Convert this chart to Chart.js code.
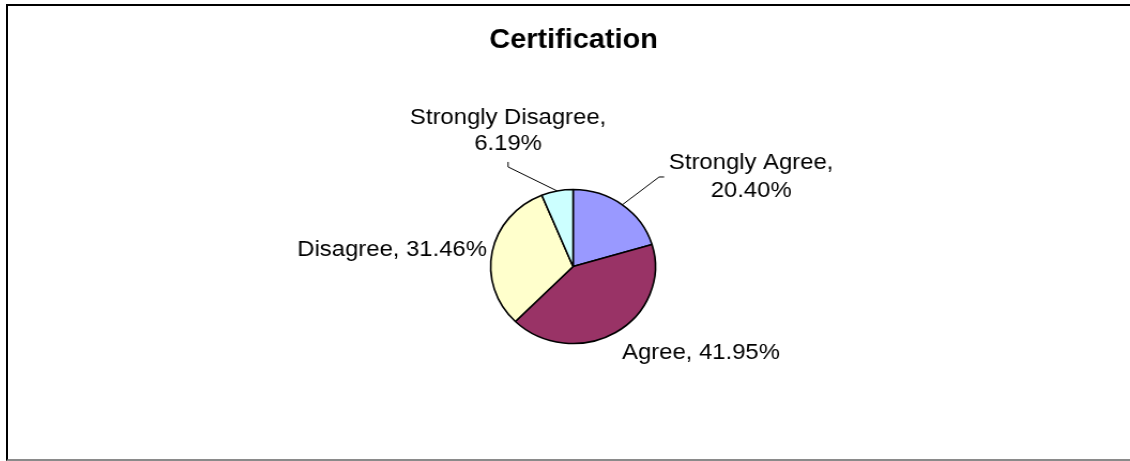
<!DOCTYPE html>
<html>
<head>
<meta charset="utf-8">
<script src="https://cdn.jsdelivr.net/npm/chart.js@4/dist/chart.umd.min.js"></script>
<style>
  html, body { margin: 0; padding: 0; background: #fff; overflow: hidden; }
  body { width: 1130px; height: 461px; position: relative; }
  #frame {
    position: absolute; left: 6px; top: 4px; width: 1130px; height: 453px;
    border-left: 2px solid #000; border-top: 2px solid #000; border-bottom: 2px solid #8a8a8a;
    box-sizing: content-box;
  }
  #stage {
    position: absolute; left: 0; top: 0; width: 1056px; height: 461px;
    transform-origin: 0 0; transform: scaleX(1.0701);
  }
</style>
</head>
<body>
<div id="frame"></div>
<div id="stage"><canvas id="chart" width="1056" height="461"></canvas></div>
<script>
// Survey answers for the certification question
const categories = ['Strongly Agree', 'Agree', 'Disagree', 'Strongly Disagree'];
const percentages = [20.40, 41.95, 31.46, 6.19];
const sliceColors = ['#9999FF', '#993366', '#FFFFCC', '#CCFFFF'];
const chartTitle = 'Certification';

// Where each data label sits relative to the point on the rim at the slice's middle angle.
// lines: baseline offsets for each text line; leader: polyline from the rim outward.
const labelLayout = [
  { align: 'center', dx: 120.4, lines: [-35.8, -7.8], split: true,
    leader: [[34.4, -27.8], [39.1, -27.8]] },
  { align: 'left', dx: 6.1, lines: [26.5], split: false, leader: null },
  { align: 'right', dx: -4.9, lines: [4.3], split: false, leader: null },
  { align: 'center', dx: -45.8, lines: [-67, -41], split: true,
    leader: [[-45.8, -24], [-45.8, -29]] }
];

const FONT = '"Liberation Sans", Arial, "DejaVu Sans", sans-serif';

const pieLabels = {
  id: 'pieLabels',
  afterDatasetsDraw(chart) {
    const ctx = chart.ctx;
    const meta = chart.getDatasetMeta(0);
    ctx.save();
    ctx.fillStyle = '#000';
    ctx.strokeStyle = '#000';
    ctx.lineWidth = 1;
    ctx.textBaseline = 'alphabetic';
    ctx.font = '22.3px ' + FONT;
    meta.data.forEach((arc, i) => {
      const p = arc.getProps(['x', 'y', 'startAngle', 'endAngle', 'outerRadius'], true);
      const mid = (p.startAngle + p.endAngle) / 2;
      const ax = p.x + Math.cos(mid) * p.outerRadius;
      const ay = p.y + Math.sin(mid) * p.outerRadius;
      const spec = labelLayout[i];
      const pct = percentages[i].toFixed(2) + '%';
      const texts = spec.split ? [categories[i] + ',', pct] : [categories[i] + ', ' + pct];
      ctx.textAlign = spec.align;
      texts.forEach((t, k) => ctx.fillText(t, ax + spec.dx, ay + spec.lines[k]));
      if (spec.leader) {
        ctx.beginPath();
        ctx.moveTo(ax, ay);
        spec.leader.forEach(([lx, ly]) => ctx.lineTo(ax + lx, ay + ly));
        ctx.stroke();
      }
    });
    // chart heading
    ctx.font = 'bold 27px ' + FONT;
    ctx.textAlign = 'center';
    ctx.fillText(chartTitle, 536, 48);
    ctx.restore();
  }
};

new Chart(document.getElementById('chart'), {
  type: 'pie',
  data: {
    labels: categories,
    datasets: [{
      data: percentages,
      backgroundColor: sliceColors,
      borderColor: '#000',
      borderWidth: 1.6,
      radius: 77
    }]
  },
  options: {
    responsive: false,
    animation: false,
    events: [],
    layout: { padding: { left: 435.5, right: 420.5, top: 166.5, bottom: 94.5 } },
    plugins: {
      legend: { display: false },
      title: { display: false },
      tooltip: { enabled: false }
    }
  },
  plugins: [pieLabels]
});
</script>
</body>
</html>
